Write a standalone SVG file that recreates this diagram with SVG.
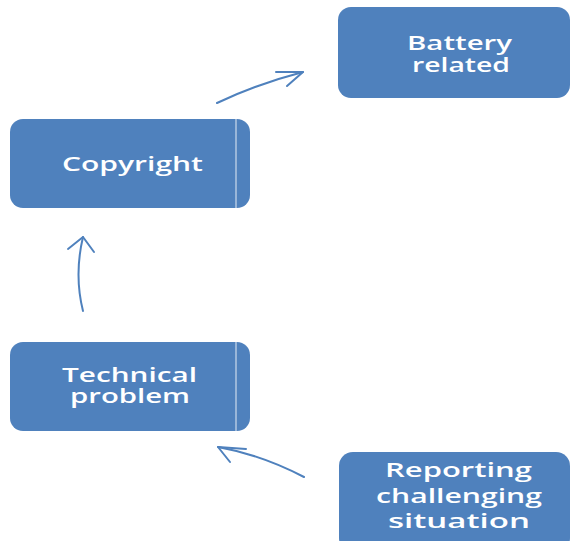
<svg xmlns="http://www.w3.org/2000/svg" width="571" height="541" viewBox="0 0 571 541">
<defs>
<style>
.box{fill:#4f81bd;}
.sep{stroke:#ffffff;stroke-width:1;opacity:0.85;}
.lbl{fill:#ffffff;font-family:"Open Sans","Liberation Sans",sans-serif;font-weight:600;font-size:20px;text-anchor:middle;}
.conn{fill:none;stroke:#4f81bd;stroke-width:2;stroke-linecap:round;stroke-linejoin:round;}
</style>
</defs>
<rect width="571" height="541" fill="#ffffff"/>
<g id="battery">
<rect class="box" x="338" y="7" width="232" height="91" rx="13"/>
<text class="lbl" x="459.5" y="50" textLength="105" lengthAdjust="spacingAndGlyphs">Battery</text>
<text class="lbl" x="461" y="72" textLength="98" lengthAdjust="spacingAndGlyphs">related</text>
</g>
<g id="copyright">
<rect class="box" x="10" y="119" width="240" height="89" rx="13"/>
<line class="sep" x1="236" y1="119" x2="236" y2="208"/>
<text class="lbl" x="132.5" y="171" textLength="141" lengthAdjust="spacingAndGlyphs">Copyright</text>
</g>
<g id="technical">
<rect class="box" x="10" y="342" width="240" height="89" rx="13"/>
<line class="sep" x1="236" y1="342" x2="236" y2="431"/>
<text class="lbl" x="129.5" y="382" textLength="135" lengthAdjust="spacingAndGlyphs">Technical</text>
<text class="lbl" x="130" y="403" textLength="120" lengthAdjust="spacingAndGlyphs">problem</text>
</g>
<g id="reporting">
<rect class="box" x="339" y="452" width="231" height="100" rx="14"/>
<text class="lbl" x="458.5" y="477" textLength="147" lengthAdjust="spacingAndGlyphs">Reporting</text>
<text class="lbl" x="459" y="503" textLength="166" lengthAdjust="spacingAndGlyphs">challenging</text>
<text class="lbl" x="459" y="528" textLength="142" lengthAdjust="spacingAndGlyphs">situation</text>
</g>
<g id="connectors">
<path class="conn" d="M217,103 Q257,84 303,72"/>
<path class="conn" d="M276,72 L303,72 L287,86"/>
<path class="conn" d="M83,311 Q74,275 83,237"/>
<path class="conn" d="M68,249 L83,237 L94,252"/>
<path class="conn" d="M304,477 Q262,455 218,447"/>
<path class="conn" d="M246,449 L218,447 L230,462"/>
</g>
</svg>
